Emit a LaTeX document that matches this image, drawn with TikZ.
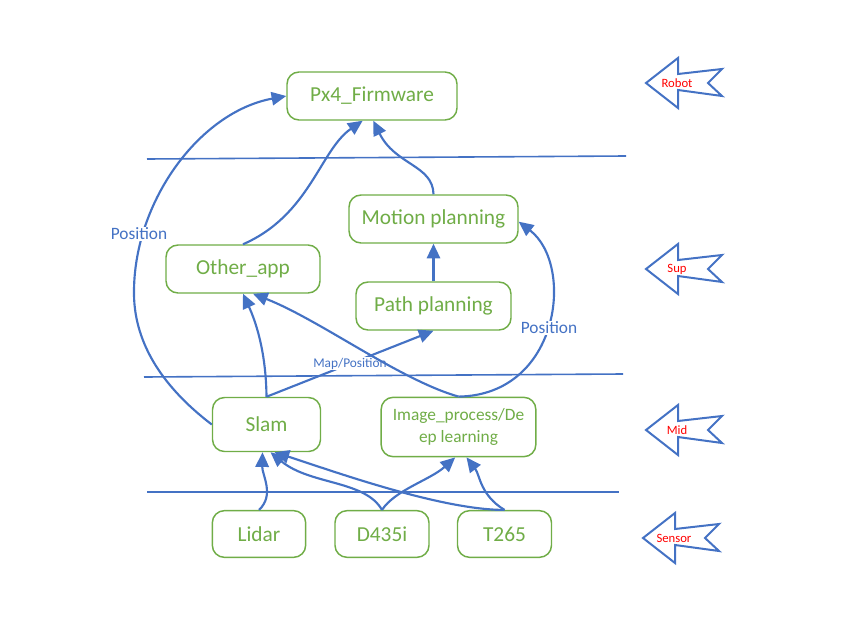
\documentclass[tikz,border=0pt]{standalone}
\usepackage{fontspec}
\setmainfont{Carlito}
\usetikzlibrary{arrows.meta}
\definecolor{boxgreen}{HTML}{70AD47}
\definecolor{lineblue}{HTML}{4472C4}
\definecolor{labred}{HTML}{FF0000}
\tikzset{
  box/.style={draw=boxgreen, line width=1.1pt, rounded corners=9pt, text=boxgreen,
    font=\fontsize{16}{19}\selectfont, fill=white, align=center, inner sep=0pt},
  conn/.style={draw=lineblue, line width=1.6pt, -{Triangle[length=11pt,width=10pt]}},
  layerline/.style={draw=lineblue, line width=1.2pt},
  edgelab/.style={text=lineblue, fill=white, inner sep=1pt, font=\fontsize{13}{15}\selectfont},
  smalllab/.style={text=lineblue, fill=white, inner sep=0.5pt, font=\fontsize{10}{12}\selectfont},
  arrlabel/.style={text=labred, inner sep=0pt, font=\fontsize{9.5}{11}\selectfont},
  larrow/.pic={
    \draw[draw=lineblue, line width=1.5pt, line join=miter]
      (0,0) -- (32,-25) -- (32,-9) -- (76,-14) -- (62,0) -- (76,13) -- (32,7) -- (32,25) -- cycle;
    \node[arrlabel] (-label) at (31,0) {#1};
  }
}
\begin{document}
\begin{tikzpicture}[x=0.75pt, y=-0.75pt]
\useasboundingbox (0,0) rectangle (853,642);

% layer lines
\coordinate (l1a) at (147,159); \coordinate (l1b) at (626,156);
\coordinate (l2a) at (144,377); \coordinate (l2b) at (623,374);
\coordinate (l3a) at (147,492); \coordinate (l3b) at (619,492);
\draw[layerline] (l1a) -- (l1b);
\draw[layerline] (l2a) -- (l2b);
\draw[layerline] (l3a) -- (l3b);

% boxes
\node[box, minimum width=127.5pt, minimum height=36pt] (px4) at (372,96) {Px4\_Firmware};
\node[box, minimum width=126.75pt, minimum height=36pt] (motion) at (433.5,219) {Motion planning};
\node[box, minimum width=115.5pt, minimum height=36pt] (other) at (243,269) {Other\_app};
\node[box, minimum width=116.25pt, minimum height=36pt] (path) at (433.5,306) {Path planning};
\node[box, minimum width=81pt, minimum height=40.5pt] (slam) at (266.5,424.5) {Slam};
\node[box, minimum width=116pt, minimum height=44.5pt, font=\fontsize{13}{16.5}\selectfont] (image) at (458.5,427) {Image\_process/De\\ep learning};
\node[box, minimum width=70pt, minimum height=35pt] (lidar) at (259,534) {Lidar};
\node[box, minimum width=70.5pt, minimum height=35pt] (d435) at (382,534) {D435i};
\node[box, minimum width=70.5pt, minimum height=35pt] (t265) at (504.5,534) {T265};

% Slam -> Path planning with label
\draw[conn] (slam.north) -- node[smalllab] (mappos) {Map/Position} (path.south);

% Slam -> Px4 (Position)
\draw[conn] (slam.west) .. controls (160,385) and (133,340) .. (134,290)
  .. controls (135,200) and (200,112) .. (px4.west);
\node[edgelab] (poslab1) at (139,234) {Position};

% Other_app -> Px4
\draw[conn] (other.north) .. controls (310,215) and (320,150) .. ([xshift=-7pt]px4.south);
% Motion -> Px4
\draw[conn] (motion.north) .. controls (433,165) and (395,165) .. ([xshift=1pt]px4.south);
% Path -> Motion
\draw[conn] (path.north) -- (motion.south);
% Image -> Motion (Position)
\draw[conn] (image.north) .. controls (560,395) and (575,265) .. ([yshift=-2pt]motion.east);
\node[edgelab] (poslab2) at (549,328) {Position};
% Image -> Other_app
\draw[conn] (image.north) .. controls (400,380) and (320,320) .. ([xshift=7.5pt]other.south);
% Slam -> Other_app
\draw[conn] (slam.north) .. controls (266,350) and (255,320) .. (other.south);

% sensors -> Slam / Image
\draw[conn] (lidar.north) .. controls (275,495) and (262,475) .. ([xshift=-3pt]slam.south);
\draw[conn] (d435.north) .. controls (365,480) and (310,485) .. ([xshift=3pt]slam.south);
\draw[conn] (d435.north) .. controls (395,490) and (430,480) .. ([xshift=-2.5pt]image.south);
\draw[conn] (t265.north) .. controls (440,510) and (330,470) .. ([xshift=6pt]slam.south);
\draw[conn] (t265.north) .. controls (480,495) and (480,475) .. ([xshift=6pt]image.south);

% layer arrows
\pic (robot) at (646,83) {larrow=Robot};
\pic (sup) at (646,269) {larrow=Sup};
\pic (mid) at (646,430) {larrow=Mid};
\pic (sensor) at (643,538) {larrow=Sensor};
\end{tikzpicture}
\end{document}
